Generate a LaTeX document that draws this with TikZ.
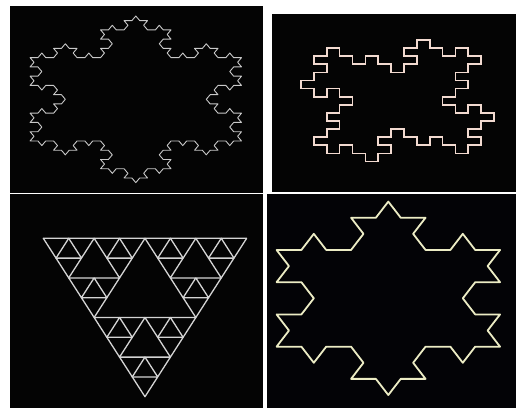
\documentclass[tikz,border=0pt]{standalone}
\newcommand\turtStep{\pgfmathsetmacro\turtX{\turtX+cos(\turtA)}\pgfmathsetmacro\turtY{\turtY+sin(\turtA)}\xdef\kpath{\kpath -- (\turtX,\turtY)}}
\newcommand\turtTurn[1]{\pgfmathsetmacro\turtA{\turtA+#1}}
\newcommand\kochF[1]{\ifnum#1=0 \turtStep\else\expandafter\kochSub\expandafter{\the\numexpr#1-1\relax}\fi}
\newcommand\kochSub[1]{\kochF{#1}\turtTurn{60}\kochF{#1}\turtTurn{-120}\kochF{#1}\turtTurn{60}\kochF{#1}}
\newcommand\kochFlake[1]{\gdef\kpath{}\kochF{#1}\turtTurn{-120}\kochF{#1}\turtTurn{-120}\kochF{#1}}
\definecolor{panelbg}{RGB}{4,4,4}
\definecolor{panelbgb}{RGB}{3,3,6}
\definecolor{flakeA}{RGB}{200,200,200}
\definecolor{islandC}{RGB}{242,218,208}
\definecolor{sierpC}{RGB}{212,212,212}
\definecolor{flakeB}{RGB}{236,236,196}
\tikzset{
  panel/.style={fill=panelbg,draw=none},
  flakeline/.style={draw=flakeA,line width=0.9pt,line join=round},
  islandline/.style={draw=islandC,line width=1.7pt},
  sierpline/.style={draw=sierpC,line width=1.3pt,line join=round},
  flakebline/.style={draw=flakeB,line width=1.8pt,line join=round}
}
\begin{document}
\begin{tikzpicture}[x=1pt,y=-1pt]
\useasboundingbox (0,0) rectangle (516,408);
\fill[white] (0,0) rectangle (516,408);
% panels
\fill[panel] (10,6) rectangle (263,193);
\fill[panel] (272,14) rectangle (516,192);
\fill[panel] (10,194) rectangle (263,408);
\fill[panelbgb] (267,194) rectangle (516,408);
% top-left: Koch snowflake, order 3
\begin{scope}[xshift=135.8pt,yshift=-99.3pt,x=7.83pt,y=5.344pt]
  \def\turtX{-13.5}\def\turtY{-7.7942}\def\turtA{60}
  \kochFlake{3}
  \draw[flakeline] (-13.5,-7.7942) \kpath -- cycle;
\end{scope}
% top-right: quadratic island
\begin{scope}[xshift=301pt,yshift=-40pt,x=12.87pt,y=-8.1pt]
\draw[islandline] (2,1)--(3,1)--(3,2)--(4,2)--(4,3)--(5,3)--(5,2)--(6,2)--(6,3)--(7,3)--(7,4)--(8,4)--(8,3)--(9,3)--(9,2)--(8,2)--(8,1)--(9,1)--(9,0)--(10,0)--(10,1)--(11,1)--(11,2)--(12,2)--(12,1)--(13,1)--(13,2)
--(14,2)--(14,3)--(13,3)--(13,4)--(12,4)--(12,5)--(13,5)--(13,6)--(12,6)--(12,7)--(11,7)--(11,8)--(12,8)--(12,9)--(13,9)--(13,8)--(14,8)--(14,9)--(15,9)--(15,10)--(14,10)--(14,11)--(13,11)--(13,12)--(14,12)--(14,13)--(13,13)
--(13,14)--(12,14)--(12,13)--(11,13)--(11,12)--(10,12)--(10,13)--(9,13)--(9,12)--(8,12)--(8,11)--(7,11)--(7,12)--(6,12)--(6,13)--(7,13)--(7,14)--(6,14)--(6,15)--(5,15)--(5,14)--(4,14)--(4,13)--(3,13)--(3,14)--(2,14)--(2,13)
--(1,13)--(1,12)--(2,12)--(2,11)--(3,11)--(3,10)--(2,10)--(2,9)--(3,9)--(3,8)--(4,8)--(4,7)--(3,7)--(3,6)--(2,6)--(2,7)--(1,7)--(1,6)--(0,6)--(0,5)--(1,5)--(1,4)--(2,4)--(2,3)--(1,3)--(1,2)--(2,2)--cycle;
\end{scope}
% bottom-left: Sierpinski triangle
\foreach \r/\k in {0/0,0/1,0/2,0/3,0/4,0/5,0/6,0/7,1/0,1/2,1/4,1/6,2/0,2/1,2/4,2/5,3/0,3/4,4/0,4/1,4/2,4/3,5/0,5/2,6/0,6/1,7/0}{
  \draw[sierpline] ({43.3+(\r/2+\k)*25.42},{238.3+\r*19.8}) -- ++(25.42,0) -- ++(-12.71,19.8) -- cycle;
}
% bottom-right: Koch snowflake, order 2
\begin{scope}[xshift=388.3pt,yshift=-298.3pt,x=24.83pt,y=18.61pt]
  \def\turtX{-4.5}\def\turtY{-2.5981}\def\turtA{60}
  \kochFlake{2}
  \draw[flakebline] (-4.5,-2.5981) \kpath -- cycle;
\end{scope}
\end{tikzpicture}
\end{document}
